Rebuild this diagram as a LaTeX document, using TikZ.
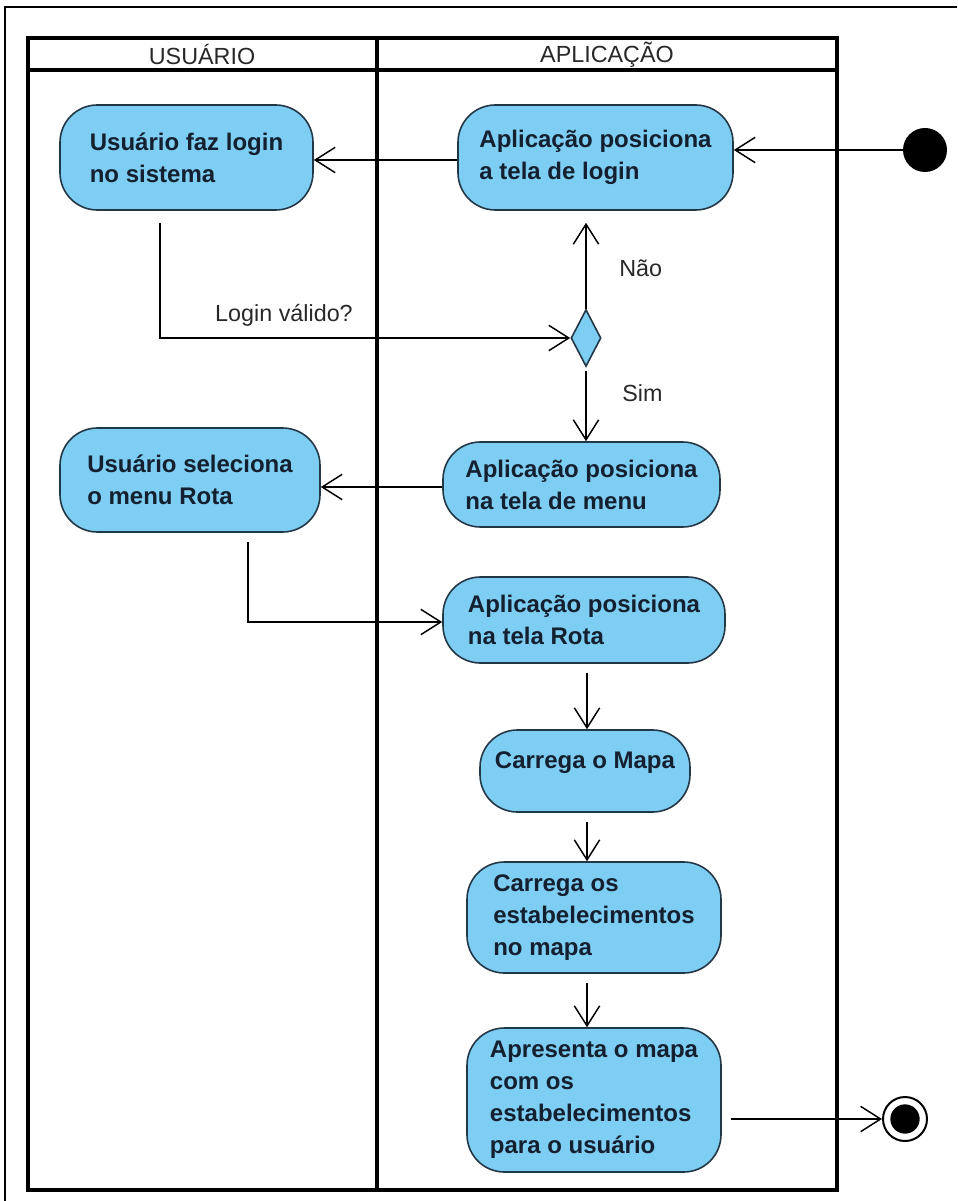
\documentclass[tikz,border=0pt]{standalone}
\usepackage{fontspec}
\setmainfont{Liberation Sans}
\usetikzlibrary{arrows.meta,shapes.geometric}
\definecolor{actfill}{RGB}{126,205,242}
\definecolor{actdraw}{RGB}{35,55,70}
\definecolor{acttext}{RGB}{20,32,48}
\definecolor{lbltext}{RGB}{40,40,40}
\begin{document}
\begin{tikzpicture}[x=0.75pt,y=-0.75pt,
  act/.style={draw=actdraw, line width=1.2pt, fill=actfill, rounded corners=28pt,
    align=left, text=acttext, font=\fontsize{18}{24}\selectfont\bfseries, inner sep=0pt},
  flow/.style={draw=black, line width=1.1pt, -{Straight Barb[length=15pt,width=19pt]}},
  lbl/.style={text=lbltext, font=\fontsize{17.5}{20}\selectfont, inner sep=0pt},
  lane/.style={draw=black, line width=3pt},
  decis/.style={diamond, draw=actdraw, line width=1.2pt, fill=actfill, inner sep=0pt,
    minimum width=22.5pt, minimum height=42.75pt},
  startnode/.style={circle, fill=black, inner sep=0pt, minimum size=33pt},
  endnode/.style={circle, draw=black, line width=1.5pt, fill=white, inner sep=0pt, minimum size=33pt},
  enddot/.style={circle, fill=black, inner sep=0pt, minimum size=22pt}]
\useasboundingbox (0,0) rectangle (957,1201);
% outer frame
\draw[line width=1pt] (957,7) -- (5,7) -- (5,1201);
% swimlanes
\draw[lane] (28,38) rectangle (837,1190);
\draw[lane] (28,70) -- (837,70);
\draw[lane] (377,38) -- (377,1190);
\node[lbl] (hU) at (202,55) {USUÁRIO};
\node[lbl] (hA) at (607,55) {APLICAÇÃO};
% activities
\node[act, minimum width=189.75pt, minimum height=78.75pt] (n1) at (186.5,157.5) {Usuário faz login\\no sistema};
\node[act, minimum width=206.25pt, minimum height=78.75pt] (n2) at (595.5,157.5) {Aplicação posiciona\\a tela de login};
\node[decis] (dec) at (586,338) {};
\node[act, minimum width=195pt, minimum height=78pt] (n3) at (190,480) {Usuário seleciona\\o menu Rota};
\node[act, minimum width=207.75pt, minimum height=63.75pt] (n4) at (581.5,484.5) {Aplicação posiciona\\na tela de menu};
\node[act, minimum width=211.5pt, minimum height=64.5pt] (n5) at (584,620) {Aplicação posiciona\\na tela Rota};
\node[act, minimum width=157.5pt, minimum height=61.5pt, text depth=16pt] (n6) at (585,771) {Carrega o Mapa};
\node[act, minimum width=190.5pt, minimum height=83.25pt] (n7) at (594,917.5) {Carrega os\\estabelecimentos\\no mapa};
\node[act, minimum width=190.5pt, minimum height=108pt] (n8) at (594,1100) {Apresenta o mapa\\com os\\estabelecimentos\\para o usuário};
\node[startnode] (start) at (925,150) {};
\node[endnode] (end) at (905,1119) {};
\node[enddot] (endin) at (end) {};
% connectors
\draw[flow] (start) -- (start -| n2.east);
\coordinate (y160) at (0,160);
\draw[flow] (n2.west |- y160) -- (n1.east |- y160);
\coordinate (c1) at (160,338);
\draw[flow, shorten <=9pt] (n1.south -| c1) -- (c1) -- (dec.west);
\node[lbl] (lv) at (284,315) {Login válido?};
\draw[flow, shorten >=9pt] (dec.north) -- (dec.north |- n2.south);
\node[lbl, anchor=west] (nao) at (619,268) {Não};
\draw[flow, shorten <=3pt] (dec.south) -- (dec.south |- n4.north);
\node[lbl, anchor=west] (sim) at (622,393) {Sim};
\coordinate (y487) at (0,487);
\draw[flow] (n4.west |- y487) -- (n3.east |- y487);
\coordinate (c2) at (248,622);
\draw[flow, shorten <=7pt] (n3.south -| c2) -- (c2) -- (c2 -| n5.west);
\coordinate (xa) at (587,0);
\draw[flow, shorten <=7pt] (n5.south -| xa) -- (n6.north -| xa);
\draw[flow, shorten <=7pt] (n6.south -| xa) -- (n7.north -| xa);
\draw[flow, shorten <=7pt] (n7.south -| xa) -- (n8.north -| xa);
\draw[flow, shorten <=7pt] (n8.east |- end) -- (end.west);
\end{tikzpicture}
\end{document}
